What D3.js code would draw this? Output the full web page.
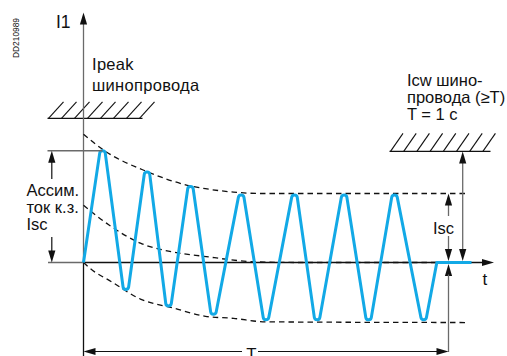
<!DOCTYPE html>
<html><head><meta charset="utf-8">
<script src="https://cdn.jsdelivr.net/npm/d3@7"></script>
<style>
body{margin:0;background:#fff}
svg{display:block}
text{font-family:"Liberation Sans",Arial,Helvetica,sans-serif;fill:#111}
</style>
</head><body>
<svg id="c" width="507" height="356"></svg>
<script>
// time in seconds (T = 1 s), current in per-unit of the symmetrical Isc
const waveT = [0, 0.052, 0.116, 0.174, 0.233, 0.293, 0.356, 0.432, 0.500, 0.578, 0.640, 0.714, 0.781, 0.852, 0.932, 0.968, 1.063];
const waveI = [0, 1.62, -0.39, 1.31, -0.63, 1.10, -0.75, 0.98, -0.83, 0.98, -0.83, 0.98, -0.83, 0.98, -0.83, 0, 0];

const upperT = [0, 0.052, 0.173, 0.293, 0.334, 0.411, 0.485, 1.047];
const upperI = [1.86, 1.64, 1.32, 1.11, 1.07, 1.02, 1.00, 1.00];

const dcT = [0, 0.068, 0.156, 0.247, 0.329, 0.471, 0.595, 1.047];
const dcI = [0.83, 0.55, 0.28, 0.15, 0.09, 0.01, 0, 0];

const lowerT = [0, 0.019, 0.077, 0.156, 0.247, 0.334, 0.411, 0.499, 1.047];
const lowerI = [0, -0.09, -0.28, -0.53, -0.66, -0.78, -0.81, -0.86, -0.87];

const ipeakLevel = 2.09;   // Ipeak of busbar trunking
const icwLevel = 1.61;     // Icw of busbar trunking
const iscLevel = 1.0;      // Isc
const asymPeak = 1.62;     // asymmetrical peak
const tEnd = 1.0;          // T = 1 s

const labelsIpeak = ["Ipeak", "шинопровода"];
const labelsAsym = ["Ассим.", "ток к.з.", "Isc"];
const labelsIcw = ["Icw шино-", "провода (≥T)", "T = 1 c"];

const svg = d3.select("#c");
const x = d3.scaleLinear().domain([0, 1]).range([83.5, 448.5]);
const y = d3.scaleLinear().domain([0, 1]).range([262.5, 193.5]);

const gray = "#6a6a6a", dark = "#111";

function arrowHead(px, py, dir, col) {
  const L = 12, w = 3.6;
  let pts;
  if (dir === "up") pts = [[px, py], [px - w, py + L], [px + w, py + L]];
  if (dir === "down") pts = [[px, py], [px - w, py - L], [px + w, py - L]];
  if (dir === "left") pts = [[px, py], [px + L, py - w], [px + L, py + w]];
  if (dir === "right") pts = [[px, py], [px - L, py - w], [px - L, py + w]];
  svg.append("path").attr("d", "M" + pts.map(p => p.join(",")).join("L") + "Z").attr("fill", col || dark);
}
function line(x1, y1, x2, y2, col, w) {
  svg.append("line").attr("x1", x1).attr("y1", y1).attr("x2", x2).attr("y2", y2)
    .attr("stroke", col || dark).attr("stroke-width", w || 1.2);
}

// ---- hatched limit lines
function hatch(x1, x2, yy, n, step, dx, dy) {
  line(x1, yy, x2, yy, dark, 1.3);
  for (let i = 0; i < n; i++) {
    const bx = x1 + 1 + i * step;
    line(bx, yy, bx + dx, yy - dy, dark, 1.1);
  }
}
hatch(47.5, 142.5, y(ipeakLevel), 8, 13, 15, 16.5);
hatch(389.5, 490.5, y(icwLevel), 8, 13.2, 12.5, 18);

// ---- axes
line(x(0), 24, x(0), y(0), gray, 1.3);
line(x(0), y(0), x(0), 356, dark, 1.3);
arrowHead(x(0), 12.5, "up", dark);
line(48, y(0), x(0), y(0), gray, 1.4);
line(x(0), y(0), 483, y(0), dark, 1.3);
arrowHead(494, y(0), "right", dark);

// ---- envelopes (dashed)
const env = d3.line().curve(d3.curveMonotoneX).x(d => x(d[0])).y(d => y(d[1]));
[[upperT, upperI], [dcT, dcI], [lowerT, lowerI]].forEach(([T, I]) => {
  svg.append("path").attr("d", env(T.map((t, i) => [t, I[i]])))
    .attr("fill", "none").attr("stroke", dark).attr("stroke-width", 1.3)
    .attr("stroke-dasharray", "5.5,4");
});

// ---- current wave: straight flanks tangent to small round tips at each extreme
function wavePath(pts, R) {
  // circles: peaks (screen-top) r=-R centred below apex; troughs r=+R centred above apex
  const circ = pts.map((p, i) => {
    if (i === 0 || i === pts.length - 1) return { c: p, r: 0 };
    const ay = pts[i - 1][1], by = pts[i + 1][1], py = p[1];
    if ((ay - py) * (by - py) <= 0) return { c: p, r: 0 };
    const peak = ay > py;
    return { c: [p[0], py + (peak ? R : -R)], r: peak ? -R : R, peak };
  });
  const tIn = [], tOut = [];
  for (let i = 0; i < circ.length - 1; i++) {
    const a = circ[i], b = circ[i + 1];
    const vx = b.c[0] - a.c[0], vy = b.c[1] - a.c[1], L = Math.hypot(vx, vy);
    const ux = vx / L, uy = vy / L, wx = -uy, wy = ux;
    const bb = (b.r - a.r) / L, aa = Math.sqrt(Math.max(0, 1 - bb * bb));
    const dx = aa * ux + bb * wx, dy = aa * uy + bb * wy;
    const nx = -dy, ny = dx;
    tOut[i] = [a.c[0] + a.r * nx, a.c[1] + a.r * ny];
    tIn[i + 1] = [b.c[0] + b.r * nx, b.c[1] + b.r * ny];
  }
  const p = d3.path();
  p.moveTo(pts[0][0], pts[0][1]);
  for (let i = 1; i < circ.length; i++) {
    const c = circ[i];
    if (c.r === 0) { p.lineTo(c.c[0], c.c[1]); continue; }
    const a0 = Math.atan2(tIn[i][1] - c.c[1], tIn[i][0] - c.c[0]);
    const a1 = Math.atan2(tOut[i][1] - c.c[1], tOut[i][0] - c.c[0]);
    p.lineTo(tIn[i][0], tIn[i][1]);
    p.arc(c.c[0], c.c[1], R, a0, a1, !c.peak);
  }
  return p.toString();
}
const wavePts = waveT.map((t, i) => [x(t), y(waveI[i])]);
svg.append("path").attr("d", wavePath(wavePts, 2.8))
  .attr("fill", "none").attr("stroke", "#12a9e6").attr("stroke-width", 3)
  .attr("stroke-linejoin", "round").attr("stroke-linecap", "butt");

// ---- asymmetrical peak dimension (left)
line(47.5, y(asymPeak), x(0.052), y(asymPeak), gray, 1.4);
const ax0 = 51.8;
line(ax0, y(asymPeak) + 10, ax0, 179, dark, 1.2);
arrowHead(ax0, y(asymPeak), "up");
line(ax0, 237, ax0, y(0) - 10, dark, 1.2);
arrowHead(ax0, y(0), "down");

// ---- Isc dimension (right)
const ix = x(tEnd);
line(ix, y(iscLevel) + 10, ix, 216, gray, 1.3);
line(ix, 236, ix, y(0) - 10, gray, 1.3);
arrowHead(ix, y(iscLevel), "up");
arrowHead(ix, y(0) - 1.5, "down");
arrowHead(ix, y(0) + 1.5, "up");
line(ix, y(0) + 12, ix, 352, gray, 1.3);

// ---- Icw dimension
const cx = 462.7;
line(cx, y(icwLevel) + 10, cx, y(0) - 10, gray, 1.3);
arrowHead(cx, y(icwLevel), "up");
arrowHead(cx, y(0) - 1.5, "down");

// ---- T dimension
const ty = 351.5;
line(x(0) + 10, ty, 242, ty, dark, 1.2);
line(258, ty, ix - 10, ty, dark, 1.2);
arrowHead(x(0), ty, "left");
arrowHead(ix, ty, "right");

// ---- texts
const fs = 16.5;
function txt(s, tx, tyy, size, anchor) {
  return svg.append("text").attr("x", tx).attr("y", tyy).attr("font-size", size || fs)
    .attr("text-anchor", anchor || "start").text(s);
}
txt("I1", 56, 28, 17.5);
labelsIpeak.forEach((s, i) => txt(s, 92, 70 + i * 20.5).attr("letter-spacing", 0.3));
labelsAsym.forEach((s, i) => txt(s, 26.5, 195.5 + i * 17.3));
labelsIcw.forEach((s, i) => txt(s, 407, 85.5 + i * 17.2));
txt("Isc", 433, 233.5);
txt("t", 482.5, 285, 17);
txt("T", 251.5, 359.5, 16.8, "middle");
svg.append("text").attr("transform", "translate(18.5,58) rotate(-90)")
  .attr("font-size", 9.5).attr("textLength", 40).attr("lengthAdjust", "spacingAndGlyphs")
  .text("DD210989");
</script>
</body></html>
